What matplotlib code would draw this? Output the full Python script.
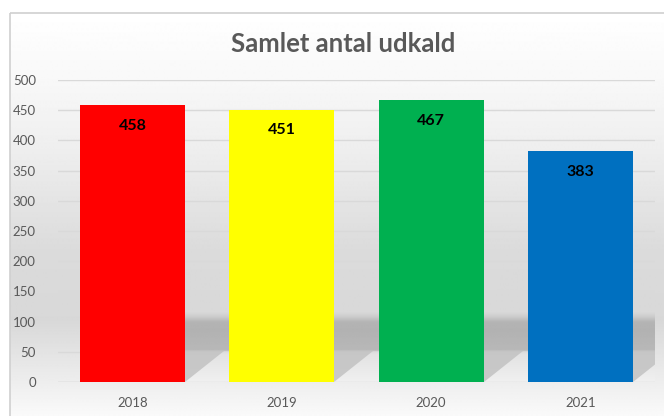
import numpy as np
import matplotlib
matplotlib.use("Agg")
import matplotlib.pyplot as plt
from matplotlib.patches import Rectangle, Polygon

plt.rcParams['font.family'] = ['Lato', 'DejaVu Sans']

# ---- data ----
title = "Samlet antal udkald"
years = ["2018", "2019", "2020", "2021"]
values = [458, 451, 467, 383]
colors = ["#FF0000", "#FFFF00", "#00B050", "#0070C0"]
yticks = [0, 50, 100, 150, 200, 250, 300, 350, 400, 450, 500]

W, H = 664, 416
fig = plt.figure(figsize=(W / 100, H / 100), dpi=100)
fig.patch.set_facecolor("white")

# ---- chart-area background (pixel coordinates) ----
bg = fig.add_axes([0, 0, 1, 1], zorder=-5)
bg.set_xlim(0, W)
bg.set_ylim(H, 0)
bg.axis("off")
py = np.array([13, 80, 150, 250, 320, 383, 416])
gv = np.array([255, 248, 238, 219, 216, 238, 250]) / 255.0
rows = np.arange(13, 417)
g = np.interp(rows, py, gv)
img = np.repeat(g[:, None], 2, axis=1)
bg.imshow(img, cmap="gray", vmin=0, vmax=1, extent=(10, W, H, 13),
          aspect="auto", interpolation="bilinear", zorder=0)
bg.add_patch(Rectangle((10, 13), W, H, fill=False, edgecolor="#d0d0d0", lw=1.2, zorder=1))

# ---- main axes ----
left, right = 58 / W, 655 / W
bottom, top = (H - 382) / H, (H - 80) / H
ax = fig.add_axes([left, bottom, right - left, top - bottom])
ax.set_facecolor("none")
ax.set_xlim(-0.5, 3.5)
ax.set_ylim(0, 500)
x = np.arange(len(years))
bw = 0.705

# shadow band behind the bars
band_y = np.array([0, 46, 50, 52, 86, 99, 108, 115])
band_g = np.array([240, 226, 218, 184, 178, 180, 205, 217]) / 255.0
yy = np.linspace(0, 115, 200)
bimg = np.repeat(np.interp(yy, band_y, band_g)[:, None], 2, axis=1)
ax.imshow(bimg, cmap="gray", vmin=0, vmax=1, origin="lower",
          extent=(x[0] - bw / 2, 3.5, 0, 115), aspect="auto",
          interpolation="bilinear", zorder=1)
# diagonal shadow next to each bar
for xi in x:
    xr = xi + bw / 2
    ax.add_patch(Polygon([(xr, 0), (xr, 52), (xr + 0.26, 52)], closed=True,
                         facecolor="#c2c2c2", edgecolor="none", alpha=0.85, zorder=1.2))

ax.set_yticks(yticks)
ax.yaxis.grid(True, color="#d9d9d9", lw=1.0, zorder=0)
ax.set_axisbelow(True)

bars = ax.bar(x, values, width=bw, color=colors, zorder=3)
for xi, v in zip(x, values):
    ax.annotate(str(v), (xi, v), xytext=(0, -15), textcoords="offset points",
                ha="center", va="center", fontsize=11.5, fontweight="bold",
                color="black", zorder=4)

ax.set_xticks(x)
ax.set_xticklabels(years)
ax.tick_params(axis="both", length=0, labelsize=9.5, labelcolor="#595959")
ax.tick_params(axis="y", pad=16)
ax.tick_params(axis="x", pad=11)
for s in ax.spines.values():
    s.set_visible(False)
ax.axhline(0, color="#d9d9d9", lw=1.0, zorder=2)

fig.text(343 / W, 1 - 44 / H, title, ha="center", va="center",
         fontsize=18.5, fontweight="bold", color="#595959")

fig.savefig("out.png", dpi=100)
